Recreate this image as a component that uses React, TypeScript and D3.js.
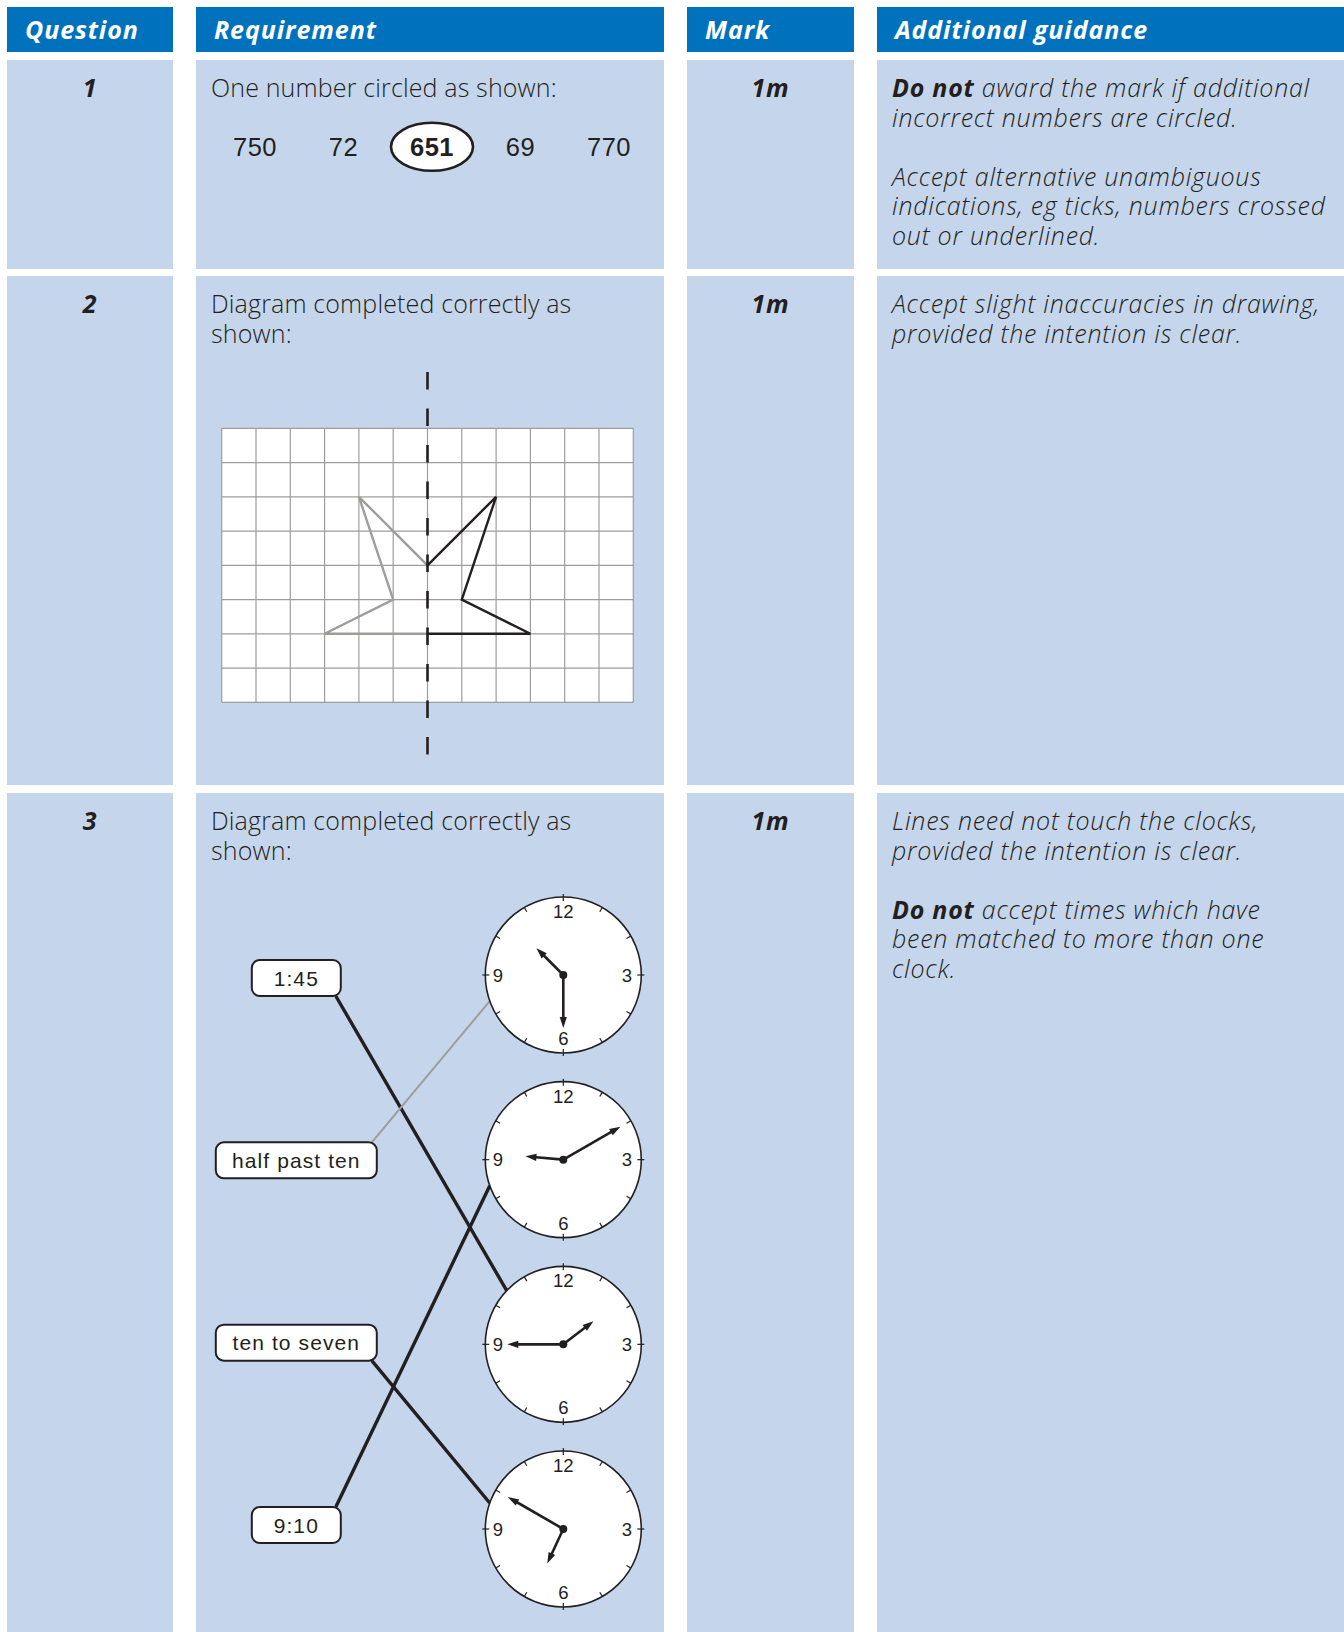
import * as d3 from 'd3'

const HEADERS = ['Question', 'Requirement', 'Mark', 'Additional guidance']
const QUESTIONS = ['1', '2', '3']
const MARKS = ['1m', '1m', '1m']
const REQUIREMENTS = [
  ['One number circled as shown:'],
  ['Diagram completed correctly as', 'shown:'],
  ['Diagram completed correctly as', 'shown:'],
]
const GUIDANCE = [
  ['**Do not** award the mark if additional', 'incorrect numbers are circled.', '', 'Accept alternative unambiguous', 'indications, eg ticks, numbers crossed', 'out or underlined.'],
  ['Accept slight inaccuracies in drawing,', 'provided the intention is clear.'],
  ['Lines need not touch the clocks,', 'provided the intention is clear.', '', '**Do not** accept times which have', 'been matched to more than one', 'clock.'],
]

// question 1
const NUMBERS = ['750', '72', '651', '69', '770']
const CIRCLED = '651'

// question 2: half shape, [columns right of mirror line, row from top]
const GRID_COLS = 12
const GRID_ROWS = 8
const MIRROR_COL = 6
const SHAPE = [[0, 4], [2, 2], [1, 5], [3, 6], [0, 6]]

// question 3
const TIME_LABELS = ['1:45', 'half past ten', 'ten to seven', '9:10']
const CLOCK_TIMES = [[10, 30], [9, 10], [1, 45], [6, 50]]
const MATCH = [2, 0, 3, 1] // clock index for each label
const GIVEN = 'half past ten' // the printed example line
const RIM_HOURS = [8.35, 8.35, 10.45, 9.65] // where each line meets its clock
const FACE_NUMERALS = [12, 3, 6, 9]

const W = 1344
const H = 1632
const COLS = [[7, 173], [196, 664], [687, 854], [877, 1344]]
const HEAD = [7, 52]
const ROWS = [[60, 269], [276, 785], [793, 1632]]
const BLUE = '#0071bc'
const CELL = '#c5d6ec'
const INK = '#231f20'
const GREY = '#9d9d9c'
const BODY = '"Open Sans", sans-serif'
const SANS = '"Liberation Sans", Arial, sans-serif'
const LINE_H = 29.5
const BASE = 37

const R = 78
const CLOCK_X = 563.3
const LABEL_X = 296.3
const HOUR_LEN = 38
const MIN_LEN = [53, 66, 56, 64]

function Rich({ text }: { text: string }) {
  const parts = text.split(/\*\*(.+?)\*\*/)
  return (
    <>
      {parts.map((p, i) => (
        <tspan key={i} fontWeight={i % 2 ? 700 : 300}>{p}</tspan>
      ))}
    </>
  )
}

const angle = d3.scaleLinear().domain([0, 12]).range([0, 2 * Math.PI])
const polar = (cx: number, cy: number, hours: number, r: number): [number, number] => [
  cx + r * Math.sin(angle(hours)),
  cy - r * Math.cos(angle(hours)),
]

function Hand({ cx, cy, hours, len }: { cx: number; cy: number; hours: number; len: number }) {
  const [x1, y1] = polar(cx, cy, hours, len - 8)
  const tip = polar(cx, cy, hours, len)
  const a = angle(hours)
  const [bx, by] = polar(cx, cy, hours, len - 11)
  const px = Math.cos(a) * 3.6
  const py = Math.sin(a) * 3.6
  return (
    <g>
      <line x1={cx} y1={cy} x2={x1} y2={y1} stroke={INK} strokeWidth={2.6} />
      <path d={`M${tip[0]},${tip[1]}L${bx + px},${by + py}L${bx - px},${by - py}Z`} fill={INK} />
    </g>
  )
}

function Clock({ cy, time, minLen }: { cy: number; time: number[]; minLen: number }) {
  const [h, m] = time
  const cx = CLOCK_X
  return (
    <g>
      <circle cx={cx} cy={cy} r={R} fill="white" stroke={INK} strokeWidth={1.6} />
      {d3.range(12).map(i => {
        const major = i % 3 === 0
        const [x1, y1] = polar(cx, cy, i, major ? R - 4 : R - 5)
        const [x2, y2] = polar(cx, cy, i, major ? R + 3 : R)
        return <line key={i} x1={x1} y1={y1} x2={x2} y2={y2} stroke={INK} strokeWidth={1.2} />
      })}
      {FACE_NUMERALS.map(n => {
        const [x, y] = polar(cx, cy, n, n === 9 ? 65.5 : 63.5)
        return (
          <text key={n} x={x} y={y} textAnchor="middle" dominantBaseline="central"
            fontFamily={SANS} fontSize={18.5} fill={INK}>{n}</text>
        )
      })}
      <Hand cx={cx} cy={cy} hours={(h % 12) + m / 60} len={HOUR_LEN} />
      <Hand cx={cx} cy={cy} hours={m / 5} len={minLen} />
      <circle cx={cx} cy={cy} r={4} fill={INK} />
    </g>
  )
}

export default function App() {
  const numX = d3.scalePoint().domain(NUMBERS).range([255, 609])
  const gx = d3.scaleLinear().domain([0, GRID_COLS]).range([221.7, 633.3])
  const gy = d3.scaleLinear().domain([0, GRID_ROWS]).range([428.3, 702.3])
  const clockY = d3.scaleLinear().domain([0, 3]).range([975, 1529])
  const labelY = d3.scaleLinear().domain([0, 3]).range([978, 1525])
  const line = d3.line()

  const blackShape = SHAPE.map(([dc, r]) => [gx(MIRROR_COL + dc), gy(r)] as [number, number])
  const greyShape = SHAPE.map(([dc, r]) => [gx(MIRROR_COL - dc), gy(r)] as [number, number])

  return (
    <svg width={W} height={H} style={{ position: 'absolute', left: 0, top: 0, background: 'white' }}>
      {/* header */}
      {HEADERS.map((t, i) => (
        <g key={t}>
          <rect x={COLS[i][0]} y={HEAD[0]} width={COLS[i][1] - COLS[i][0]} height={HEAD[1] - HEAD[0]} fill={BLUE} />
          <text x={COLS[i][0] + 18} y={39} fill="white" fontFamily={BODY} fontWeight={700}
            fontStyle="italic" fontSize={25} letterSpacing={0.9}>{t}</text>
        </g>
      ))}

      {/* cells */}
      {ROWS.map((row, r) => (
        <g key={r}>
          {COLS.map((c, i) => (
            <rect key={i} x={c[0]} y={row[0]} width={c[1] - c[0]} height={row[1] - row[0]} fill={CELL} />
          ))}
          <text x={(COLS[0][0] + COLS[0][1]) / 2} y={row[0] + BASE} textAnchor="middle" fill={INK}
            fontFamily={BODY} fontWeight={700} fontStyle="italic" fontSize={25} letterSpacing={0.9}>{QUESTIONS[r]}</text>
          <text x={(COLS[2][0] + COLS[2][1]) / 2} y={row[0] + BASE} textAnchor="middle" fill={INK}
            fontFamily={BODY} fontWeight={700} fontStyle="italic" fontSize={25} letterSpacing={0.9}>{MARKS[r]}</text>
          {REQUIREMENTS[r].map((t, k) => (
            <text key={k} x={COLS[1][0] + 15} y={row[0] + BASE + k * LINE_H} fill={INK}
              fontFamily={BODY} fontWeight={300} fontSize={25} letterSpacing={0.15}>{t}</text>
          ))}
          {GUIDANCE[r].map((t, k) => (
            <text key={k} x={COLS[3][0] + 15} y={row[0] + BASE + k * LINE_H} fill={INK}
              fontFamily={BODY} fontStyle="italic" fontSize={25} letterSpacing={0.75} style={{ whiteSpace: 'pre' }}>
              <Rich text={t} />
            </text>
          ))}
        </g>
      ))}

      {/* question 1 */}
      {NUMBERS.map(n => (
        <g key={n}>
          {n === CIRCLED && (
            <ellipse cx={numX(n)} cy={146.8} rx={41} ry={24} fill="white" stroke={INK} strokeWidth={2.6} />
          )}
          <text x={numX(n)} y={146.8} textAnchor="middle" dominantBaseline="central" fill={INK}
            fontFamily={SANS} fontSize={25.5} fontWeight={n === CIRCLED ? 700 : 400}
            letterSpacing={0.5}>{n}</text>
        </g>
      ))}

      {/* question 2 */}
      <rect x={gx(0)} y={gy(0)} width={gx(GRID_COLS) - gx(0)} height={gy(GRID_ROWS) - gy(0)} fill="white" />
      {d3.range(GRID_COLS + 1).map(c => (
        <line key={`c${c}`} x1={gx(c)} x2={gx(c)} y1={gy(0)} y2={gy(GRID_ROWS)} stroke={GREY} strokeWidth={1.2} />
      ))}
      {d3.range(GRID_ROWS + 1).map(r => (
        <line key={`r${r}`} x1={gx(0)} x2={gx(GRID_COLS)} y1={gy(r)} y2={gy(r)} stroke={GREY} strokeWidth={1.2} />
      ))}
      <path d={line(greyShape) ?? ''} fill="none" stroke={GREY} strokeWidth={2.4} strokeLinejoin="miter" />
      <path d={line(blackShape) ?? ''} fill="none" stroke={INK} strokeWidth={2.4} strokeLinejoin="miter" />
      <line x1={gx(MIRROR_COL)} x2={gx(MIRROR_COL)} y1={372} y2={762} stroke={INK} strokeWidth={2.6}
        strokeDasharray="17.5 19" />

      {/* question 3 */}
      {TIME_LABELS.map((t, i) => {
        const j = MATCH[i]
        const cy = labelY(i)
        const w = t.length > 4 ? 161 : 89
        const below = clockY(j) > cy
        const sx = LABEL_X + w / 2 - 5
        const sy = below ? cy + 18 : cy - 18
        const [ex, ey] = polar(CLOCK_X, clockY(j), RIM_HOURS[j], R)
        return (
          <line key={`l${t}`} x1={sx} y1={sy} x2={ex} y2={ey}
            stroke={t === GIVEN ? GREY : INK} strokeWidth={t === GIVEN ? 2 : 3.4} />
        )
      })}
      {TIME_LABELS.map((t, i) => {
        const cy = labelY(i)
        const w = t.length > 4 ? 161 : 89
        return (
          <g key={t}>
            <rect x={LABEL_X - w / 2} y={cy - 18} width={w} height={36} rx={8} fill="white" stroke={INK} strokeWidth={2} />
            <text x={LABEL_X} y={cy} textAnchor="middle" dominantBaseline="central" fill={INK}
              fontFamily={SANS} fontSize={21} letterSpacing={1.1}>{t}</text>
          </g>
        )
      })}
      {CLOCK_TIMES.map((time, j) => (
        <Clock key={j} cy={clockY(j)} time={time} minLen={MIN_LEN[j]} />
      ))}
    </svg>
  )
}
